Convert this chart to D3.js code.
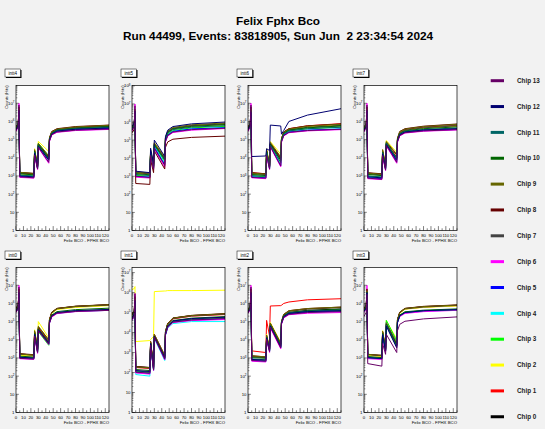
<!DOCTYPE html>
<meta charset="utf-8">
<style>
body{margin:0;background:#f2f2f2;}
text{font-family:"Liberation Sans",Arial,sans-serif;}
.curve{fill:none;stroke-width:1px;}
</style>
<body>
<script src="https://d3js.org/d3.v7.min.js"></script>
<script>

var bcoX=[0,3,4,5,24,25,29,30,44,45,48,55,80,125];

var chipLabels=['Chip 0','Chip 1','Chip 2','Chip 3','Chip 4','Chip 5','Chip 6','Chip 7','Chip 8','Chip 9','Chip 10','Chip 11','Chip 12','Chip 13'];
var chipColors=['#000000','#ff0000','#ffff00','#00ff00','#00ffff','#0000ff','#ff00ff','#434343','#660000','#666600','#006600','#006666','#000070','#660066'];

var panelNames=['intt4','intt5','intt6','intt7','intt0','intt1','intt2','intt3'];
// top of the log y axis for each pad
var panelYMax=[0.95e8,1.05e8,0.95e8,0.95e8,0.95e8,1.8e7,0.95e8,0.95e8];

// log10(counts), one row per chip (0..13), columns follow bcoX
var intt4Log=[
[5.65,5.85,6.6,3.18,3.12,4.3,3.5,4.7,3.95,5.05,5.4,5.55,5.68,5.76],
[5.6,5.8,6.5,3.15,3.08,4.4,3.55,4.75,4.0,5.05,5.38,5.55,5.66,5.74],
[5.58,5.78,6.4,3.12,3.05,4.5,3.6,4.9,4.35,5.1,5.38,5.52,5.63,5.72],
[5.55,5.75,6.5,3.05,3.0,4.35,3.5,4.8,4.1,5.0,5.32,5.48,5.6,5.68],
[5.5,5.7,6.45,3.0,2.95,4.25,3.45,4.75,4.0,4.95,5.3,5.45,5.55,5.62],
[5.52,5.72,6.6,2.98,2.92,4.2,3.4,4.65,3.85,4.95,5.28,5.45,5.55,5.62],
[5.45,5.68,7.0,2.92,2.88,4.1,3.35,4.55,3.7,4.9,5.25,5.4,5.5,5.56],
[5.62,5.82,6.7,3.15,3.1,4.3,3.5,4.7,3.95,5.05,5.38,5.55,5.65,5.74],
[5.7,5.9,6.8,3.2,3.14,4.4,3.55,4.75,4.05,5.1,5.45,5.6,5.72,5.8],
[5.68,5.88,6.7,3.2,3.14,4.45,3.55,4.8,4.1,5.1,5.43,5.58,5.7,5.79],
[5.6,5.8,6.6,3.12,3.06,4.35,3.5,4.72,3.98,5.02,5.36,5.52,5.63,5.72],
[5.58,5.78,6.55,3.05,3.0,4.3,3.45,4.68,3.92,5.0,5.34,5.5,5.6,5.68],
[5.55,5.75,6.6,3.0,2.95,4.25,3.42,4.62,3.88,4.98,5.3,5.47,5.57,5.64],
[5.5,5.72,6.9,2.95,2.9,4.15,3.38,4.58,3.75,4.92,5.27,5.42,5.52,5.58]];

var intt5Log=[
[5.7,5.9,6.6,3.2,3.12,4.3,3.6,4.75,3.9,5.1,5.45,5.65,5.8,5.9],
[5.68,5.88,6.5,3.18,3.1,4.35,3.6,4.8,3.95,5.1,5.42,5.62,5.78,5.88],
[5.65,5.85,6.5,3.15,3.08,4.45,3.65,4.85,4.1,5.12,5.4,5.6,5.75,5.85],
[5.6,5.8,6.4,3.05,3.0,4.3,3.5,4.7,3.8,5.0,5.32,5.52,5.68,5.76],
[5.55,5.75,6.4,3.0,2.95,4.2,3.45,4.65,3.7,4.95,5.28,5.48,5.62,5.7],
[5.58,5.78,6.5,3.0,2.95,4.2,3.45,4.6,3.65,4.95,5.28,5.48,5.62,5.68],
[5.5,5.7,7.0,2.95,2.9,4.1,3.35,4.5,3.5,4.9,5.22,5.42,5.55,5.64],
[5.68,5.88,6.7,3.22,3.15,4.35,3.6,4.8,4.0,5.1,5.45,5.65,5.8,5.9],
[5.4,5.6,6.3,2.6,2.55,3.9,3.2,4.4,3.4,4.6,4.9,5.05,5.15,5.22],
[5.72,5.92,6.7,3.25,3.18,4.45,3.65,4.85,4.05,5.15,5.5,5.7,5.85,5.95],
[5.65,5.85,6.6,3.15,3.08,4.35,3.55,4.75,3.95,5.08,5.42,5.62,5.76,5.86],
[5.62,5.82,6.5,3.1,3.04,4.3,3.5,4.7,3.9,5.05,5.38,5.58,5.72,5.8],
[5.75,5.95,6.6,3.28,3.2,4.55,3.7,5.0,4.1,5.2,5.55,5.75,5.9,6.0],
[5.55,5.75,6.9,3.0,2.93,4.15,3.4,4.55,3.6,4.92,5.25,5.45,5.58,5.66]];

var intt6Log=[
[5.65,5.85,6.6,3.15,3.1,4.35,3.5,4.75,3.9,5.0,5.38,5.55,5.7,5.8],
[5.68,5.88,6.6,3.18,3.12,4.4,3.55,4.8,4.0,5.05,5.42,5.6,5.76,5.88],
[5.6,5.8,6.4,3.1,3.05,4.5,3.6,4.9,4.2,5.05,5.38,5.55,5.7,5.82],
[5.55,5.75,6.5,3.0,2.95,4.3,3.45,4.75,3.7,4.95,5.3,5.48,5.6,5.7],
[5.5,5.7,6.45,2.95,2.9,4.2,3.4,4.7,3.6,4.9,5.25,5.42,5.52,5.6],
[5.52,5.72,6.5,2.95,2.9,4.2,3.4,4.65,3.55,4.9,5.25,5.42,5.52,5.58],
[5.45,5.68,7.0,2.9,2.85,4.1,3.35,4.6,3.5,4.85,5.2,5.38,5.48,5.55],
[5.62,5.82,6.7,3.12,3.08,4.35,3.5,4.75,3.9,5.0,5.36,5.54,5.68,5.78],
[5.68,5.88,6.8,3.18,3.12,4.4,3.55,4.8,4.0,5.05,5.42,5.6,5.76,5.86],
[5.66,5.86,6.7,3.16,3.1,4.45,3.55,4.85,4.05,5.05,5.4,5.58,5.74,5.85],
[5.6,5.8,6.6,3.08,3.02,4.35,3.5,4.75,3.85,4.98,5.34,5.52,5.65,5.75],
[5.55,5.75,6.5,3.02,2.98,4.3,3.45,4.7,3.75,4.95,5.3,5.48,5.6,5.68],
[5.6,5.8,6.5,4.07,4.1,4.5,4.4,5.8,5.75,5.3,5.5,6.0,6.35,6.7],
[5.5,5.72,6.9,2.92,2.88,4.15,3.38,4.62,3.55,4.88,5.22,5.4,5.5,5.57]];

var intt7Log=[
[5.62,5.82,6.6,3.15,3.1,4.3,3.45,4.75,4.0,5.0,5.38,5.55,5.68,5.78],
[5.6,5.8,6.5,3.12,3.08,4.35,3.5,4.8,4.05,5.02,5.36,5.52,5.66,5.76],
[5.58,5.8,6.4,3.1,3.05,4.45,3.6,4.95,4.3,5.05,5.36,5.5,5.63,5.74],
[5.52,5.72,6.45,3.0,2.92,4.3,3.4,4.85,3.95,4.95,5.28,5.42,5.52,5.6],
[5.48,5.68,6.4,2.95,2.88,4.25,3.4,4.8,3.85,4.9,5.25,5.4,5.5,5.56],
[5.5,5.7,6.5,2.9,2.85,4.2,3.35,4.75,3.8,4.92,5.25,5.4,5.5,5.57],
[5.42,5.65,7.0,2.85,2.8,4.1,3.3,4.65,3.7,4.85,5.2,5.36,5.46,5.53],
[5.6,5.8,6.7,3.12,3.06,4.3,3.45,4.75,4.0,5.0,5.36,5.52,5.65,5.76],
[5.68,5.88,6.8,3.18,3.12,4.4,3.55,4.85,4.15,5.08,5.45,5.6,5.74,5.86],
[5.66,5.86,6.7,3.16,3.1,4.45,3.55,4.9,4.2,5.06,5.43,5.58,5.72,5.84],
[5.58,5.78,6.6,3.08,3.02,4.32,3.45,4.78,4.0,4.98,5.33,5.48,5.6,5.7],
[5.55,5.75,6.55,3.0,2.95,4.28,3.42,4.8,3.95,4.95,5.3,5.45,5.56,5.64],
[5.52,5.72,6.6,2.95,2.9,4.22,3.38,4.72,3.88,4.93,5.27,5.42,5.53,5.6],
[5.46,5.68,6.9,2.88,2.82,4.12,3.32,4.68,3.75,4.88,5.22,5.38,5.48,5.55]];

var intt0Log=[
[5.72,5.92,6.6,3.22,3.16,4.4,3.45,4.6,3.9,5.1,5.5,5.72,5.84,5.93],
[5.7,5.9,6.5,3.2,3.14,4.45,3.5,4.65,3.95,5.1,5.48,5.7,5.82,5.9],
[5.66,5.86,6.4,3.15,3.1,4.55,3.55,5.0,4.1,5.1,5.45,5.66,5.78,5.88],
[5.55,5.75,6.5,3.05,3.0,4.25,3.3,4.45,3.7,4.95,5.3,5.48,5.58,5.64],
[5.52,5.72,6.45,3.0,2.95,4.2,3.3,4.55,3.75,4.92,5.28,5.45,5.56,5.62],
[5.55,5.75,6.5,3.0,2.96,4.3,3.35,4.5,3.8,4.95,5.3,5.47,5.58,5.64],
[5.5,5.7,7.0,2.96,2.92,4.15,3.25,4.5,3.75,4.9,5.25,5.44,5.55,5.62],
[5.68,5.88,6.7,3.2,3.15,4.4,3.45,4.6,3.9,5.08,5.47,5.7,5.82,5.91],
[5.72,5.92,6.8,3.24,3.18,4.45,3.5,4.7,4.0,5.12,5.52,5.73,5.85,5.94],
[5.7,5.9,6.7,3.22,3.16,4.5,3.5,4.75,4.0,5.1,5.5,5.72,5.84,5.93],
[5.6,5.8,6.6,3.1,3.05,4.35,3.4,4.6,3.85,5.0,5.36,5.55,5.66,5.74],
[5.56,5.76,6.55,3.02,2.98,4.3,3.35,4.55,3.8,4.96,5.32,5.5,5.6,5.66],
[5.58,5.78,6.6,3.04,3.0,4.3,3.35,4.55,3.8,4.97,5.32,5.5,5.6,5.67],
[5.52,5.74,6.9,2.98,2.94,4.2,3.3,4.5,3.75,4.92,5.28,5.46,5.56,5.62]];

var intt1Log=[
[4.9,5.1,5.6,2.3,2.25,3.5,2.25,3.85,2.8,4.05,4.45,4.72,4.85,4.93],
[4.85,5.05,5.5,2.25,2.2,3.55,2.3,3.9,2.85,4.02,4.42,4.68,4.82,4.9],
[6.15,6.2,6.3,3.55,3.6,3.65,3.8,6.05,6.08,6.08,6.1,6.1,6.1,6.12],
[4.7,4.9,5.5,2.05,2.0,3.4,2.15,3.75,2.7,3.9,4.3,4.55,4.65,4.72],
[4.6,4.8,5.4,1.9,1.82,3.3,2.1,3.7,2.6,3.85,4.22,4.45,4.55,4.55],
[4.65,4.85,5.5,2.0,1.95,3.4,2.15,3.8,2.65,3.9,4.28,4.52,4.62,4.68],
[4.6,4.8,5.95,1.98,1.92,3.35,2.1,3.75,2.65,3.88,4.25,4.5,4.6,4.65],
[4.85,5.05,5.7,2.28,2.22,3.5,2.25,3.85,2.8,4.02,4.42,4.7,4.83,4.92],
[4.9,5.1,5.8,2.3,2.25,3.55,2.3,3.9,2.85,4.05,4.46,4.73,4.86,4.95],
[4.88,5.08,5.7,2.28,2.24,3.55,2.28,3.9,2.85,4.04,4.44,4.72,4.85,4.94],
[4.75,4.95,5.6,2.15,2.1,3.45,2.2,3.8,2.75,3.95,4.35,4.6,4.72,4.8],
[4.7,4.9,5.55,2.08,2.02,3.42,2.15,3.78,2.72,3.92,4.32,4.56,4.68,4.75],
[4.72,4.92,5.6,2.1,2.05,3.45,2.2,3.8,2.75,3.93,4.33,4.58,4.7,4.77],
[4.65,4.85,5.95,2.02,1.97,3.38,2.12,3.76,2.68,3.9,4.28,4.52,4.63,4.7]];

var intt2Log=[
[5.55,5.75,6.6,3.08,3.02,4.15,3.45,4.8,3.7,4.95,5.32,5.5,5.62,5.7],
[5.6,5.8,6.5,3.39,3.3,5.07,4.2,5.86,5.88,5.9,6.0,6.08,6.2,6.26],
[5.6,5.8,6.4,3.1,3.05,4.3,3.55,4.95,3.85,5.0,5.38,5.58,5.7,5.78],
[5.52,5.72,6.5,2.9,2.85,4.1,3.4,4.75,3.6,4.92,5.28,5.45,5.56,5.62],
[5.48,5.68,6.45,2.85,2.8,4.05,3.35,4.7,3.55,4.88,5.24,5.42,5.52,5.58],
[5.5,5.7,6.5,2.88,2.82,4.05,3.38,4.72,3.55,4.9,5.26,5.43,5.52,5.58],
[5.45,5.66,7.0,2.82,2.78,4.0,3.3,4.65,3.5,4.85,5.2,5.38,5.46,5.5],
[5.62,5.82,6.7,3.08,3.02,4.2,3.5,4.85,3.75,4.98,5.36,5.56,5.68,5.77],
[5.65,5.85,6.8,3.12,3.06,4.25,3.5,4.9,3.8,5.0,5.4,5.6,5.72,5.8],
[5.65,5.85,6.7,3.12,3.06,4.25,3.52,4.92,3.8,5.0,5.4,5.6,5.72,5.8],
[5.58,5.78,6.6,3.02,2.98,4.15,3.45,4.8,3.7,4.95,5.32,5.5,5.6,5.68],
[5.55,5.75,6.55,2.95,2.9,4.12,3.42,4.78,3.65,4.93,5.3,5.48,5.58,5.64],
[5.52,5.72,6.6,2.92,2.88,4.1,3.4,4.75,3.62,4.92,5.28,5.45,5.55,5.6],
[5.48,5.7,6.9,2.86,2.82,4.05,3.35,4.7,3.55,4.88,5.23,5.4,5.5,5.55]];

var intt3Log=[
[5.7,5.9,6.6,3.18,3.12,4.4,3.45,4.8,3.7,5.1,5.5,5.72,5.82,5.9],
[5.68,5.88,6.5,3.16,3.1,4.45,3.5,4.9,3.8,5.1,5.48,5.7,5.8,5.88],
[5.66,5.86,6.4,3.15,3.08,4.5,3.55,5.05,4.05,5.1,5.45,5.68,5.78,5.86],
[5.58,5.78,6.5,3.05,3.0,4.35,3.45,5.07,3.95,5.0,5.35,5.52,5.6,5.66],
[5.55,5.75,6.45,3.0,2.95,4.3,3.4,4.95,3.85,4.95,5.3,5.48,5.58,5.63],
[5.55,5.75,6.5,3.0,2.95,4.25,3.38,4.9,3.75,4.96,5.3,5.48,5.58,5.64],
[5.5,5.72,7.0,2.96,2.92,4.2,3.35,4.85,3.65,4.92,5.27,5.45,5.55,5.62],
[5.68,5.88,6.7,3.18,3.12,4.4,3.45,4.8,3.7,5.08,5.48,5.7,5.8,5.89],
[5.72,5.92,6.8,3.2,3.15,4.45,3.5,4.85,3.75,5.12,5.52,5.73,5.84,5.92],
[5.7,5.9,6.7,3.2,3.14,4.45,3.5,4.95,3.85,5.1,5.5,5.72,5.83,5.91],
[5.6,5.8,6.6,3.08,3.02,4.35,3.42,4.85,3.7,5.0,5.36,5.54,5.63,5.7],
[5.56,5.76,6.55,3.02,2.97,4.3,3.4,4.8,3.6,4.96,5.32,5.5,5.6,5.65],
[5.56,5.76,6.6,3.02,2.97,4.28,3.38,4.75,3.55,4.96,5.32,5.5,5.6,5.66],
[5.3,5.5,6.5,2.69,2.55,3.8,3.2,4.3,3.3,4.5,4.85,5.02,5.15,5.26]];

var panelData={intt0:intt0Log,intt1:intt1Log,intt2:intt2Log,intt3:intt3Log,
               intt4:intt4Log,intt5:intt5Log,intt6:intt6Log,intt7:intt7Log};

var W=545,H=429;
var svg=d3.select("body").append("svg").attr("width",W).attr("height",H);
svg.append("rect").attr("width",W).attr("height",H).attr("fill","#f2f2f2");

svg.append("text").attr("x",278).attr("y",24.5).attr("text-anchor","middle")
  .style("font-size","11.8px").style("font-weight","bold").text("Felix Fphx Bco");
svg.append("text").attr("x",278).attr("y",39.5).attr("text-anchor","middle")
  .style("font-size","11.8px").style("font-weight","bold").style("white-space","pre")
  .text("Run 44499, Events: 83818905, Sun Jun  2 23:34:54 2024");

var fw=93,fh=145;

panelNames.forEach(function(name,i){
  var col=i%4,row=Math.floor(i/4);
  var px=col*116,py=row*182;
  var fl=px+16,ft=py+85.5;
  var g=svg.append("g");

  var x=d3.scaleLinear().domain([0,125]).range([fl,fl+fw]);
  var y=d3.scaleLog().domain([1,panelYMax[i]]).range([ft+fh,ft]);

  g.append("rect").attr("x",fl).attr("y",ft).attr("width",fw).attr("height",fh)
    .attr("fill","#ffffff");

  var clipId="clip"+i;
  g.append("clipPath").attr("id",clipId).append("rect")
    .attr("x",fl).attr("y",ft).attr("width",fw).attr("height",fh);

  var line=d3.line().x(function(d){return x(d[0]);}).y(function(d){return y(Math.pow(10,d[1]));});
  var rows=panelData[name];
  g.append("g").attr("clip-path","url(#"+clipId+")")
    .selectAll("path").data(rows).join("path")
    .attr("class","curve")
    .attr("stroke",function(d,c){return chipColors[c];})
    .attr("d",function(r){return line(r.map(function(v,k){return [bcoX[k],v];}));});

  // x axis ticks inside the frame
  var xt=g.append("g");
  d3.range(0,126,5).forEach(function(t){
    var len=(t%10===0)?4.4:2.2;
    xt.append("line").attr("x1",x(t)).attr("x2",x(t))
      .attr("y1",ft+fh).attr("y2",ft+fh-len).attr("stroke","#000").attr("stroke-width",0.5);
  });
  x.ticks(13).filter(function(t){return t<=120;}).forEach(function(t){
    xt.append("text").attr("x",x(t)).attr("y",ft+fh+6).attr("text-anchor","middle")
      .style("font-size","4.3px").text(t);
  });
  g.append("text").attr("x",fl+fw).attr("y",ft+fh+11.5).attr("text-anchor","end")
    .style("font-size","4.3px").text("Felix BCO - FPHX BCO");

  // log y axis
  var top=Math.log10(panelYMax[i]);
  for(var e=0;e<=Math.floor(top);e++){
    var v=Math.pow(10,e);
    g.append("line").attr("x1",fl).attr("x2",fl+2.8).attr("y1",y(v)).attr("y2",y(v))
      .attr("stroke","#000").attr("stroke-width",0.5);
    var lab=g.append("text").attr("x",fl-1.5).attr("y",y(v)+1.5).attr("text-anchor","end")
      .style("font-size","4.3px");
    if(e===0) lab.text("1");
    else if(e===1) lab.text("10");
    else{ lab.text("10"); lab.append("tspan").attr("dy",-1.8).style("font-size","3px").text(e); }
    for(var m=2;m<10;m++){
      var mv=m*v;
      if(mv>panelYMax[i]) break;
      g.append("line").attr("x1",fl).attr("x2",fl+1.4).attr("y1",y(mv)).attr("y2",y(mv))
        .attr("stroke","#000").attr("stroke-width",0.4);
    }
  }
  g.append("text").attr("transform","translate("+(px+7.5)+","+ft+") rotate(-90)")
    .attr("text-anchor","end").style("font-size","4px").text("Counts (Hits)");

  g.append("rect").attr("x",fl).attr("y",ft).attr("width",fw).attr("height",fh)
    .attr("fill","none").attr("stroke","#000").attr("stroke-width",0.7);

  // pad label box
  var lb=g.append("g").attr("transform","translate("+(px+5)+","+(py+69)+")");
  lb.append("rect").attr("x",1).attr("y",1).attr("width",15.5).attr("height",8).attr("fill","#000");
  lb.append("rect").attr("width",15.5).attr("height",8).attr("fill","#fff")
    .attr("stroke","#000").attr("stroke-width",0.5);
  lb.append("text").attr("x",7.75).attr("y",5.7).attr("text-anchor","middle")
    .style("font-size","4.5px").text(name);
});

// legend, chip 13 on top
var leg=svg.append("g");
d3.range(13,-1,-1).forEach(function(c,k){
  var ly=80.7+k*25.85;
  leg.append("line").attr("x1",490.7).attr("x2",504).attr("y1",ly).attr("y2",ly)
    .attr("stroke",chipColors[c]).attr("stroke-width",3);
  leg.append("text").attr("x",517).attr("y",ly+2.2).style("font-size","6.3px")
    .style("font-weight","bold").attr("fill","#222").text(chipLabels[c]);
});
</script>
</body>
</html>
